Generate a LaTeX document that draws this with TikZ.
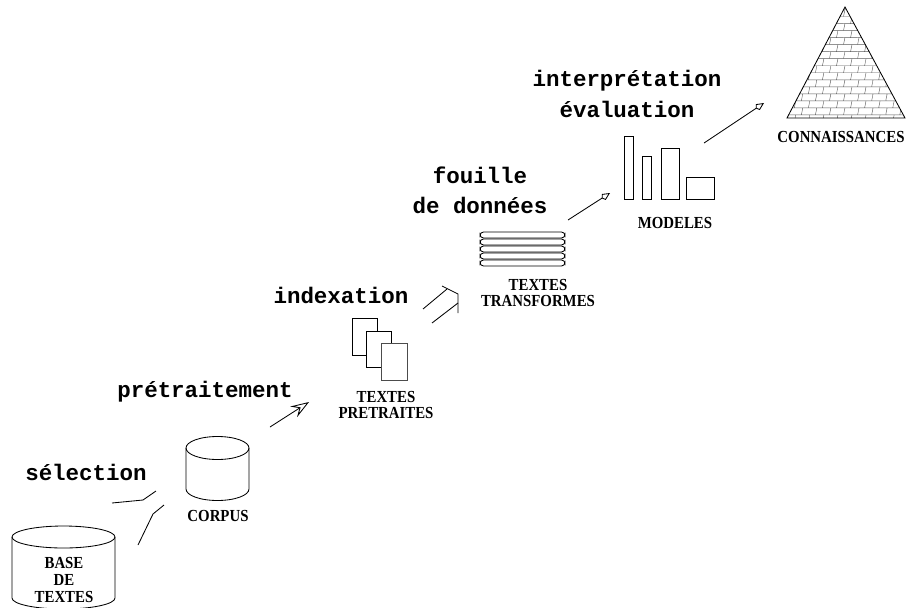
\documentclass[tikz,border=0pt]{standalone}
\usepackage{fontspec}
\setmainfont{Liberation Serif}
\setmonofont{Liberation Mono}
\newfontfamily\lblfont{Liberation Serif}[FakeStretch=0.88]
\usepackage{tikz}
\usetikzlibrary{positioning,patterns,arrows.meta}

\pgfdeclarepatternformonly{pyrbricks}{\pgfpoint{-0.5pt}{-0.5pt}}{\pgfpoint{10.5pt}{10.5pt}}{\pgfpoint{10pt}{10pt}}{
  \pgfsetlinewidth{0.3pt}
  \pgfpathmoveto{\pgfpoint{0pt}{0pt}}\pgfpathlineto{\pgfpoint{10pt}{0pt}}
  \pgfpathmoveto{\pgfpoint{0pt}{5pt}}\pgfpathlineto{\pgfpoint{10pt}{5pt}}
  \pgfpathmoveto{\pgfpoint{0pt}{0pt}}\pgfpathlineto{\pgfpoint{1pt}{5pt}}
  \pgfpathmoveto{\pgfpoint{5pt}{5pt}}\pgfpathlineto{\pgfpoint{6pt}{10pt}}
  \pgfusepath{stroke}}

\tikzset{
  step label/.style={inner sep=0pt,align=center,font=\ttfamily\bfseries\fontsize{16}{21.5}\selectfont},
  box label/.style={inner sep=0pt,align=center,font=\lblfont\bfseries\fontsize{12}{12}\selectfont},
  sheet/.style={draw,fill=white},
  bar/.style={draw,rounded corners=2.5pt},
}

\begin{document}
\begin{tikzpicture}[x=0.25mm,y=-0.25mm,line width=0.6pt]
      \useasboundingbox (0,0) rectangle (915,607);

      % base de textes
      \draw[fill=white] (12,537) -- (12,598) arc[start angle=180,end angle=0,x radius=51.5,y radius=11] -- (115,537);
      \draw (63.5,537) ellipse [x radius=51.5,y radius=11];
      \node[box label](base) at (64,580){BASE\\DE\\TEXTES};

      % corpus
      \draw (186,448) -- (186,489) arc[start angle=180,end angle=0,x radius=31.5,y radius=11.5] -- (249,448);
      \draw (217.5,448) ellipse [x radius=31.5,y radius=11.5];
      \node[box label](corpus) at (218,516){CORPUS};

      % textes pretraites
      \draw[sheet] (352,318) rectangle (377,355);
      \draw[sheet] (366,331) rectangle (391,367);
      \draw[sheet,draw=black!70] (381,343) rectangle (407,380);
      \node[box label](pretraites) at (386,405){TEXTES\\PRETRAITES};

      % textes transformes
      \foreach \y in {232,239,246,253,260}
        \draw[bar] (480,\y) rectangle (565,\y+6);
      \node[box label](transformes) at (538,293){TEXTES\\TRANSFORMES};

      % modeles
      \draw (624,136) rectangle (633,199);
      \draw (642,156) rectangle (651,199);
      \draw (661,148) rectangle (679,199);
      \draw (686,177) rectangle (714,199);
      \node[box label](modeles) at (675,223){MODELES};

      % connaissances
      \draw[pattern=pyrbricks,pattern color=black!65] (845,7) -- (905,118) -- (787,118) -- cycle;
      \node[box label](connaissances) at (841,137){CONNAISSANCES};

      % etapes
      \node[step label](selection) at (86,472){sélection};
      \node[step label](pretraitement) at (205,392){prétraitement};
      \node[step label](indexation) at (341,295){indexation};
      \node[step label](fouille) at (480,190){fouille\\de données};
      \node[step label](interpretation) at (627,94){interprétation\\évaluation};

      % fleches
      \coordinate (sel1) at (112,503);
      \coordinate (sel2) at (156,491);
      \coordinate (sel3) at (138,545);
      \coordinate (sel4) at (164,505);
      \draw (sel1) -- (143,500) -- (sel2);
      \draw (sel3) -- (153,514) -- (sel4);

      \coordinate (pre1) at (270,427);
      \coordinate (pre2) at (309,402);
      \draw[-{Stealth[open,length=13pt,width=9pt,inset=5pt]}] (pre1) -- (pre2);

      \coordinate (idx1) at (423,309);
      \coordinate (idx2) at (432,323);
      \draw (idx1) -- (447,289);
      \draw (442,286) -- (458,294) -- (458,313);
      \draw (idx2) -- (458,303);

      \coordinate (fou1) at (568,220);
      \coordinate (fou2) at (610,193);
      \draw[-{Kite[open,length=7pt,width=5pt]}] (fou1) -- (fou2);

      \coordinate (int1) at (704,143);
      \coordinate (int2) at (764,103);
      \draw[-{Kite[open,length=7pt,width=5pt]}] (int1) -- (int2);
    \end{tikzpicture}
\end{document}
